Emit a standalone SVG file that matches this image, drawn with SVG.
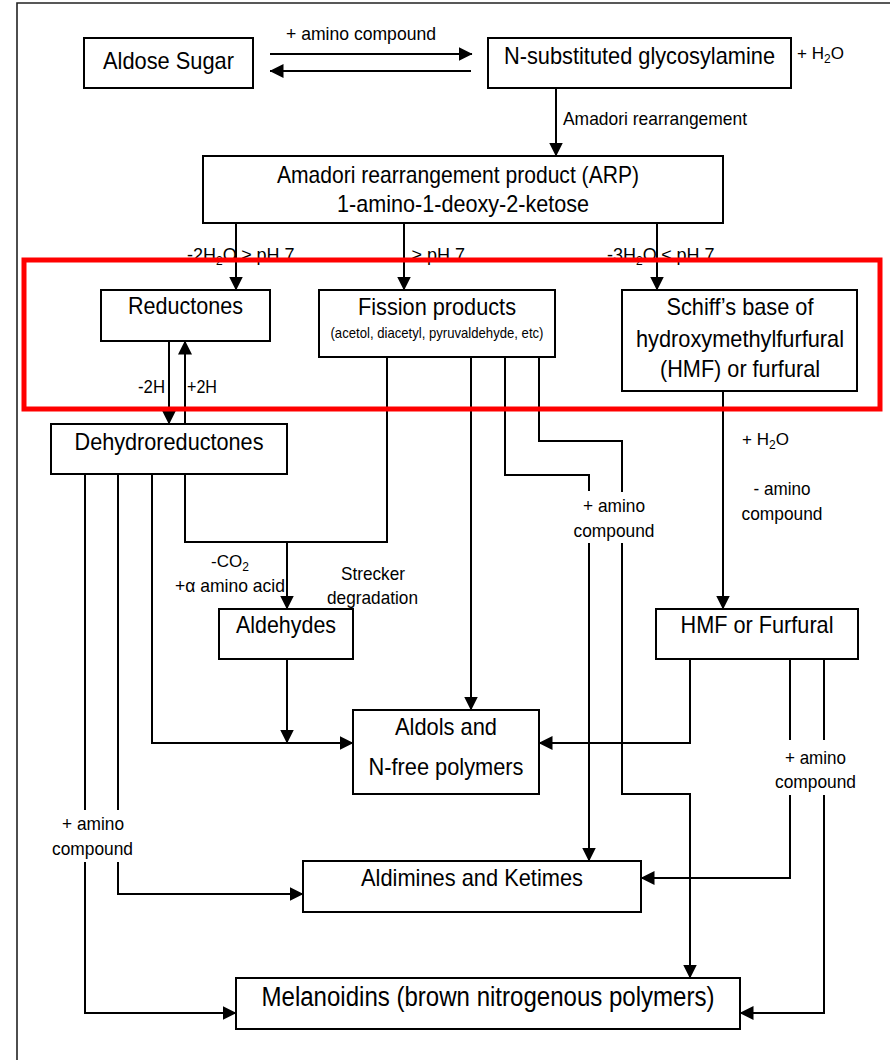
<svg xmlns="http://www.w3.org/2000/svg" width="890" height="1060" viewBox="0 0 890 1060">
<style>
.box{fill:#fff;stroke:#000;stroke-width:2}
.ln{fill:none;stroke:#000;stroke-width:2}
text{font-family:"Liberation Sans",Arial,sans-serif;fill:#000}
.big{font-size:24px;text-anchor:middle}
.mel{font-size:27px;text-anchor:middle}
.fs{font-size:15px;text-anchor:middle}
.sm{font-size:19px}
.ss{font-size:17px}
.ph{font-size:18px}
.c{text-anchor:middle}
.s2{font-size:12px}
</style>
<defs>
<marker id="ah" markerUnits="userSpaceOnUse" markerWidth="14" markerHeight="14" viewBox="0 0 14 14" refX="13.5" refY="7" orient="auto"><path d="M0,0 L14,7 L0,14 z" fill="#000"/></marker>
</defs>
<rect x="0" y="0" width="890" height="1060" fill="#fff"/>
<path d="M17,1060 V3 H890" fill="none" stroke="#222" stroke-width="1.6"/>

<g id="connectors" class="ln">
<path d="M270,54 H472" marker-end="url(#ah)"/>
<path d="M471,71 H270" marker-end="url(#ah)"/>
<path d="M556,88 V156" marker-end="url(#ah)"/>
<path d="M236,223 V290" marker-end="url(#ah)"/>
<path d="M404,223 V290" marker-end="url(#ah)"/>
<path d="M657,223 V290" marker-end="url(#ah)"/>
<path d="M169,341 V424" marker-end="url(#ah)"/>
<path d="M185,424 V341" marker-end="url(#ah)"/>
<path d="M185,474 V542 H387 V357"/>
<path d="M287,542 V609" marker-end="url(#ah)"/>
<path d="M471,357 V710" marker-end="url(#ah)"/>
<path d="M505,357 V475 H589 V491"/>
<path d="M589,543 V861" marker-end="url(#ah)"/>
<path d="M539,357 V441 H622 V492"/>
<path d="M622,543 V794 H690 V978" marker-end="url(#ah)"/>
<path d="M723,391 V609" marker-end="url(#ah)"/>
<path d="M152,474 V743 H353" marker-end="url(#ah)"/>
<path d="M287,659 V743" marker-end="url(#ah)"/>
<path d="M690,659 V743 H539" marker-end="url(#ah)"/>
<path d="M790,659 V740"/>
<path d="M790,795 V878 H641" marker-end="url(#ah)"/>
<path d="M824,659 V740"/>
<path d="M824,795 V1013 H740" marker-end="url(#ah)"/>
<path d="M118,474 V810"/>
<path d="M118,862 V894 H303" marker-end="url(#ah)"/>
<path d="M85,474 V810"/>
<path d="M85,862 V1013 H236" marker-end="url(#ah)"/>
</g>

<g id="aldose-sugar"><rect class="box" x="84" y="38" width="169" height="50"/><text class="big" x="168.5" y="69" textLength="131" lengthAdjust="spacingAndGlyphs">Aldose Sugar</text></g>
<g id="glycosylamine"><rect class="box" x="488" y="38" width="303" height="50"/><text class="big" x="639.5" y="64" textLength="271" lengthAdjust="spacingAndGlyphs">N-substituted glycosylamine</text></g>
<g id="arp"><rect class="box" x="203" y="156" width="520" height="67"/><text class="big" x="458" y="183" textLength="362" lengthAdjust="spacingAndGlyphs">Amadori rearrangement product (ARP)</text><text class="big" x="463" y="212" textLength="252" lengthAdjust="spacingAndGlyphs">1-amino-1-deoxy-2-ketose</text></g>
<g id="reductones"><rect class="box" x="101" y="290" width="169" height="51"/><text class="big" x="185.5" y="314" textLength="115" lengthAdjust="spacingAndGlyphs">Reductones</text></g>
<g id="fission"><rect class="box" x="319" y="290" width="236" height="67"/><text class="big" x="437" y="315" textLength="158" lengthAdjust="spacingAndGlyphs">Fission products</text><text class="fs" x="437" y="338" textLength="213" lengthAdjust="spacingAndGlyphs">(acetol, diacetyl, pyruvaldehyde, etc)</text></g>
<g id="schiff"><rect class="box" x="622" y="290" width="235" height="101"/><text class="big" x="740" y="315" textLength="147" lengthAdjust="spacingAndGlyphs">Schiff’s base of</text><text class="big" x="740" y="347" textLength="208" lengthAdjust="spacingAndGlyphs">hydroxymethylfurfural</text><text class="big" x="740" y="377" textLength="160" lengthAdjust="spacingAndGlyphs">(HMF) or furfural</text></g>
<g id="dehydroreductones"><rect class="box" x="51" y="424" width="236" height="50"/><text class="big" x="169" y="450" textLength="189" lengthAdjust="spacingAndGlyphs">Dehydroreductones</text></g>
<g id="aldehydes"><rect class="box" x="219" y="609" width="134" height="50"/><text class="big" x="286" y="633" textLength="100" lengthAdjust="spacingAndGlyphs">Aldehydes</text></g>
<g id="hmf"><rect class="box" x="656" y="609" width="202" height="50"/><text class="big" x="757" y="633" textLength="153" lengthAdjust="spacingAndGlyphs">HMF or Furfural</text></g>
<g id="aldols"><rect class="box" x="353" y="710" width="186" height="84"/><text class="big" x="446" y="735" textLength="102" lengthAdjust="spacingAndGlyphs">Aldols and</text><text class="big" x="446" y="775" textLength="155" lengthAdjust="spacingAndGlyphs">N-free polymers</text></g>
<g id="aldimines"><rect class="box" x="303" y="861" width="338" height="51"/><text class="big" x="472" y="886" textLength="222" lengthAdjust="spacingAndGlyphs">Aldimines and Ketimes</text></g>
<g id="melanoidins"><rect class="box" x="236" y="978" width="504" height="51"/><text class="mel" x="488" y="1006" textLength="453" lengthAdjust="spacingAndGlyphs">Melanoidins (brown nitrogenous polymers)</text></g>

<g id="labels">
<text class="sm" x="286" y="40" textLength="150" lengthAdjust="spacingAndGlyphs">+ amino compound</text>
<text class="ss" x="797" y="59">+ H<tspan class="s2" dy="4">2</tspan><tspan dy="-4">O</tspan></text>
<text class="sm" x="563" y="125" textLength="184" lengthAdjust="spacingAndGlyphs">Amadori rearrangement</text>
<text class="ph" x="187" y="261">-2H<tspan class="s2" dy="4">2</tspan><tspan dy="-4">O ≥ pH 7</tspan></text>
<text class="ph" x="412" y="261">≥ pH 7</text>
<text class="ph" x="607" y="261">-3H<tspan class="s2" dy="4">2</tspan><tspan dy="-4">O ≤ pH 7</tspan></text>
<text class="sm" x="138" y="393" textLength="27" lengthAdjust="spacingAndGlyphs">-2H</text>
<text class="sm" x="187" y="393" textLength="30" lengthAdjust="spacingAndGlyphs">+2H</text>
<text class="ss" x="742" y="445">+ H<tspan class="s2" dy="4">2</tspan><tspan dy="-4">O</tspan></text>
<text class="sm c" x="782" y="495" textLength="57" lengthAdjust="spacingAndGlyphs">- amino</text>
<text class="sm c" x="782" y="520" textLength="81" lengthAdjust="spacingAndGlyphs">compound</text>
<text class="sm c" x="614" y="512" textLength="62" lengthAdjust="spacingAndGlyphs">+ amino</text>
<text class="sm c" x="614" y="537" textLength="81" lengthAdjust="spacingAndGlyphs">compound</text>
<text class="ss" x="211" y="567">-CO<tspan class="s2" dy="4">2</tspan></text>
<text class="sm" x="175" y="592" textLength="110" lengthAdjust="spacingAndGlyphs">+α amino acid</text>
<text class="sm c" x="373" y="580" textLength="64" lengthAdjust="spacingAndGlyphs">Strecker</text>
<text class="sm c" x="372.5" y="604" textLength="91" lengthAdjust="spacingAndGlyphs">degradation</text>
<text class="sm c" x="815.5" y="764" textLength="61" lengthAdjust="spacingAndGlyphs">+ amino</text>
<text class="sm c" x="815.5" y="788" textLength="81" lengthAdjust="spacingAndGlyphs">compound</text>
<text class="sm c" x="93" y="830" textLength="62" lengthAdjust="spacingAndGlyphs">+ amino</text>
<text class="sm c" x="92.5" y="855" textLength="81" lengthAdjust="spacingAndGlyphs">compound</text>
</g>

<rect id="highlight" x="24" y="260" width="856" height="149" fill="none" stroke="#ff0000" stroke-width="5"/>
</svg>
